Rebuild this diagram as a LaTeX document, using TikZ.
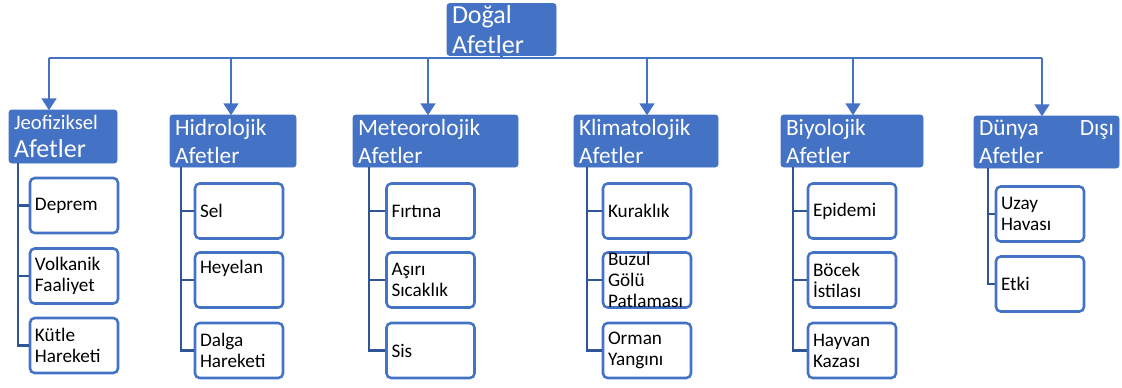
\documentclass[tikz,border=0pt]{standalone}
\usepackage{fontspec}
\setmainfont{Carlito}
\usetikzlibrary{arrows.meta}
\definecolor{accent}{HTML}{4472C4}
\definecolor{accentdark}{HTML}{2F5597}

\begin{document}
\begin{tikzpicture}[x=0.75pt,y=-0.75pt,
  header/.style={fill=accent, draw=accent, line width=0.5pt, rounded corners=2pt,
    text=white, align=left, inner xsep=3.75pt, inner ysep=0pt, minimum height=39pt,
    font=\fontsize{17.5}{21}\selectfont},
  leaf/.style={draw=accent, line width=1.9pt, fill=white, rounded corners=3.5pt,
    text=black, align=left, text width=58.5pt, inner xsep=3.75pt, inner ysep=0pt,
    minimum height=41.25pt, font=\fontsize{14.4}{15.75}\selectfont},
  bus/.style={draw=accent, line width=2pt},
  drop/.style={bus, -{Triangle[width=11pt,length=9pt]}, shorten >=-0.5pt},
  tree/.style={draw=accentdark, line width=1.9pt}]
\useasboundingbox (0,0) rectangle (1122,387);

% root
\node[header, text width=74.25pt, font=\fontsize{19.5}{22.5}\selectfont] (root) at (501.5,29.5) {Doğal\\Afetler};

% category headers
\node[header, text width=73.5pt, minimum height=39.75pt, font=\fontsize{19.5}{21}\selectfont] (h1) at (63,136.5)
  {{\fontsize{15.5}{18}\selectfont Jeofiziksel}\\Afetler};
\node[header, text width=87pt] (h2) at (233,141) {Hidrolojik\\Afetler};
\node[header, text width=116.25pt] (h3) at (435.5,141) {Meteorolojik\\Afetler};
\node[header, text width=100.5pt] (h4) at (646,141) {Klimatolojik\\Afetler};
\node[header, text width=99pt] (h5) at (852,141) {Biyolojik\\Afetler};
\node[header, text width=101.25pt] (h6) at (1046.5,142) {Dünya\hfill Dışı\\Afetler};

% distribution bus and arrows
\coordinate (a1) at (49,58);
\coordinate (a2) at (231,58);
\coordinate (a3) at (428,58);
\coordinate (a4) at (647,58);
\coordinate (a5) at (853,58);
\coordinate (a6) at (1042,58);
\draw[bus] (root.south) -- (root.south |- a1);
\draw[bus] (a1) -- (a6);
\draw[drop] (a1) -- (a1 |- h1.north);
\draw[drop] (a2) -- (a2 |- h2.north);
\draw[drop] (a3) -- (a3 |- h3.north);
\draw[drop] (a4) -- (a4 |- h4.north);
\draw[drop] (a5) -- (a5 |- h5.north);
\draw[drop] (a6) -- (a6 |- h6.north);

% leaves
\node[leaf] (c11) at (74,205.5) {Deprem};
\node[leaf] (c12) at (74,276) {Volkanik\\Faaliyet};
\node[leaf] (c13) at (74,345.5) {Kütle\\Hareketi};

\node[leaf] (c21) at (239,211) {Sel};
\node[leaf] (c22) at (239,280) {Heyelan\\\strut};
\node[leaf] (c23) at (239,350.5) {Dalga\\Hareketi};

\node[leaf] (c31) at (430.5,211) {Fırtına};
\node[leaf] (c32) at (430.5,280) {Aşırı\\Sıcaklık};
\node[leaf] (c33) at (430.5,350.5) {Sis};

\node[leaf] (c41) at (647,211) {Kuraklık};
\node[leaf, inner ysep=-3pt] (c42) at (647,280) {Buzul\\Gölü\\Patlaması};
\node[leaf] (c43) at (647,350.5) {Orman\\Yangını};

\node[leaf] (c51) at (852,211) {Epidemi};
\node[leaf] (c52) at (852,280) {Böcek\\İstilası};
\node[leaf] (c53) at (852,350.5) {Hayvan\\Kazası};

\node[leaf] (c61) at (1040,214) {Uzay\\Havası};
\node[leaf] (c62) at (1040,284) {Etki};

% tree connectors
\coordinate (t1) at (18,163);
\coordinate (t2) at (181,167);
\coordinate (t3) at (369,167);
\coordinate (t4) at (587,167);
\coordinate (t5) at (793,167);
\coordinate (t6) at (988,168);
\draw[tree] (t1) |- (c13.west);
\draw[tree] (t1 |- c11.west) -- (c11.west);
\draw[tree] (t1 |- c12.west) -- (c12.west);
\draw[tree] (t2) |- (c23.west);
\draw[tree] (t2 |- c21.west) -- (c21.west);
\draw[tree] (t2 |- c22.west) -- (c22.west);
\draw[tree] (t3) |- (c33.west);
\draw[tree] (t3 |- c31.west) -- (c31.west);
\draw[tree] (t3 |- c32.west) -- (c32.west);
\draw[tree] (t4) |- (c43.west);
\draw[tree] (t4 |- c41.west) -- (c41.west);
\draw[tree] (t4 |- c42.west) -- (c42.west);
\draw[tree] (t5) |- (c53.west);
\draw[tree] (t5 |- c51.west) -- (c51.west);
\draw[tree] (t5 |- c52.west) -- (c52.west);
\draw[tree] (t6) |- (c62.west);
\draw[tree] (t6 |- c61.west) -- (c61.west);
\end{tikzpicture}
\end{document}
